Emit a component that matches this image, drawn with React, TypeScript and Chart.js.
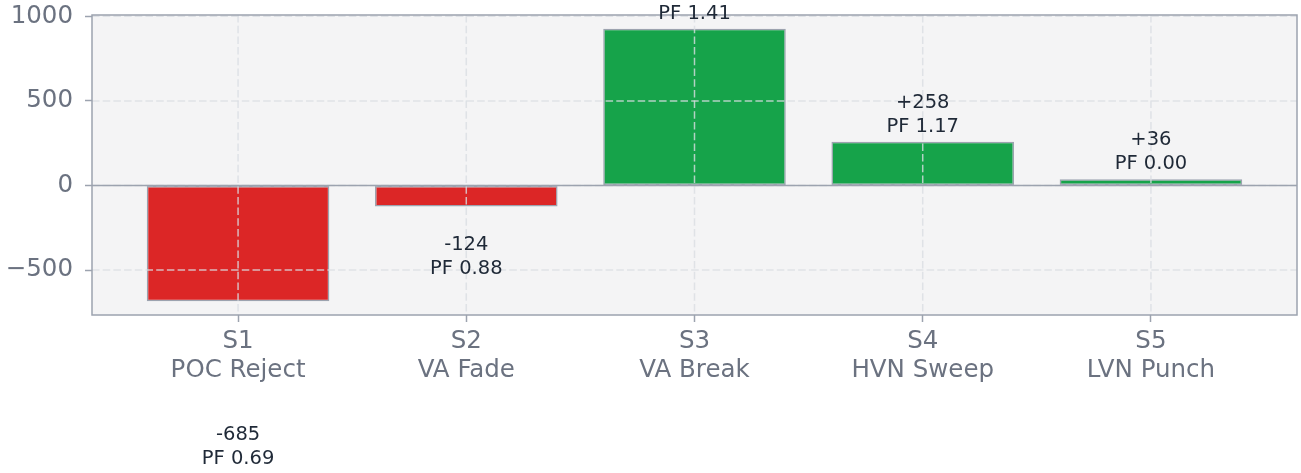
import React, { useEffect, useRef } from 'react';
import { Chart, registerables } from 'chart.js';
Chart.register(...registerables);

const codes = ['S1', 'S2', 'S3', 'S4', 'S5'];
const names = ['POC Reject', 'VA Fade', 'VA Break', 'HVN Sweep', 'LVN Punch'];
const pnl = [-685, -124, 927, 258, 36];
const pf = [0.69, 0.88, 1.41, 1.17, 0.0];
const yTicks = [-500, 0, 500, 1000];

const FONT = '"DejaVu Sans", sans-serif';
const GRAY = '#9ca3af';
const TICK_TEXT = '#6b7280';

export default function App() {
  const ref = useRef<HTMLCanvasElement>(null);
  useEffect(() => {
    document.body.style.margin = '0';
    const canvas = ref.current!;
    const overlay = {
      id: 'overlay',
      beforeDraw(chart: any) {
        const { ctx, chartArea: a } = chart;
        ctx.save();
        ctx.fillStyle = '#ffffff';
        ctx.fillRect(0, 0, chart.width, chart.height);
        ctx.fillStyle = '#f4f4f5';
        ctx.fillRect(a.left, a.top, a.right - a.left, a.bottom - a.top);
        ctx.restore();
      },
      afterDatasetsDraw(chart: any) {
        const { ctx, chartArea: a, scales } = chart;
        const x = scales.x, y = scales.y;
        ctx.save();
        ctx.lineWidth = 1.5;
        ctx.strokeStyle = 'rgba(218,221,226,0.8)';
        ctx.setLineDash([7.5, 3.2]);
        codes.forEach((_, i) => {
          const px = x.getPixelForValue(i);
          ctx.beginPath();
          ctx.moveTo(px, a.top);
          ctx.lineTo(px, a.bottom);
          ctx.stroke();
        });
        yTicks.forEach((v) => {
          const py = y.getPixelForValue(v);
          ctx.beginPath();
          ctx.moveTo(a.left, py);
          ctx.lineTo(a.right, py);
          ctx.stroke();
        });
        ctx.setLineDash([]);
        ctx.strokeStyle = GRAY;
        ctx.lineWidth = 1.5;
        const zy = y.getPixelForValue(0);
        ctx.beginPath();
        ctx.moveTo(a.left, zy);
        ctx.lineTo(a.right, zy);
        ctx.stroke();
        ctx.strokeRect(a.left, a.top, a.right - a.left, a.bottom - a.top);

        ctx.fillStyle = '#1f2937';
        ctx.font = `19.5px ${FONT}`;
        ctx.textAlign = 'center';
        ctx.textBaseline = 'alphabetic';
        pnl.forEach((v, i) => {
          const px = x.getPixelForValue(i);
          const l1 = (v >= 0 ? '+' : '-') + Math.abs(v);
          const l2 = 'PF ' + pf[i].toFixed(2);
          if (v >= 0) {
            const b = y.getPixelForValue(v) - 10;
            ctx.fillText(l2, px, b);
            ctx.fillText(l1, px, b - 24);
          } else {
            const b = y.getPixelForValue(2 * v) + 23;
            ctx.fillText(l1, px, b);
            ctx.fillText(l2, px, b + 24);
          }
        });
        ctx.restore();
      },
    };

    const chart = new Chart(canvas, {
      type: 'bar',
      data: {
        datasets: [
          {
            data: pnl.map((v, i) => ({ x: i, y: v })),
            backgroundColor: pnl.map((v) => (v >= 0 ? '#16a34a' : '#dc2626')),
            borderColor: GRAY,
            borderWidth: 1.5,
            borderSkipped: false,
            barPercentage: 0.8,
            categoryPercentage: 1,
          },
        ],
      },
      options: {
        responsive: false,
        animation: false,
        layout: { padding: { top: 15, right: 4, left: 0, bottom: 0 } },
        plugins: { legend: { display: false }, tooltip: { enabled: false } },
        scales: {
          x: {
            type: 'linear',
            min: -0.64,
            max: 4.64,
            offset: false,
            afterBuildTicks: (s: any) => {
              s.ticks = codes.map((_, i) => ({ value: i }));
            },
            afterFit: (s: any) => {
              s.height = 158;
              s.paddingLeft = 0;
              s.paddingRight = 0;
            },
            ticks: {
              autoSkip: false,
              maxRotation: 0,
              color: TICK_TEXT,
              padding: 5,
              font: { family: FONT, size: 24.5, lineHeight: 1.18 },
              callback: (v: any) => [codes[v], names[v]],
            },
            grid: {
              offset: false,
              drawOnChartArea: false,
              drawTicks: true,
              tickLength: 7,
              tickColor: GRAY,
              tickWidth: 1.5,
            },
            border: { display: false },
          },
          y: {
            min: -766,
            max: 1008,
            afterBuildTicks: (s: any) => {
              s.ticks = yTicks.map((v) => ({ value: v }));
            },
            afterFit: (s: any) => {
              s.width = 92;
              s.paddingTop = 0;
              s.paddingBottom = 0;
            },
            ticks: {
              color: TICK_TEXT,
              padding: 12,
              font: { family: FONT, size: 24.5 },
              callback: (v: any) => (v < 0 ? '\u2212' + Math.abs(v) : String(v)),
            },
            grid: {
              drawOnChartArea: false,
              drawTicks: true,
              tickLength: 7,
              tickColor: GRAY,
              tickWidth: 1.5,
            },
            border: { display: false },
          },
        },
      },
      plugins: [overlay],
    } as any);
    return () => chart.destroy();
  }, []);
  return <canvas ref={ref} width={1301} height={473} style={{ display: 'block' }} />;
}
